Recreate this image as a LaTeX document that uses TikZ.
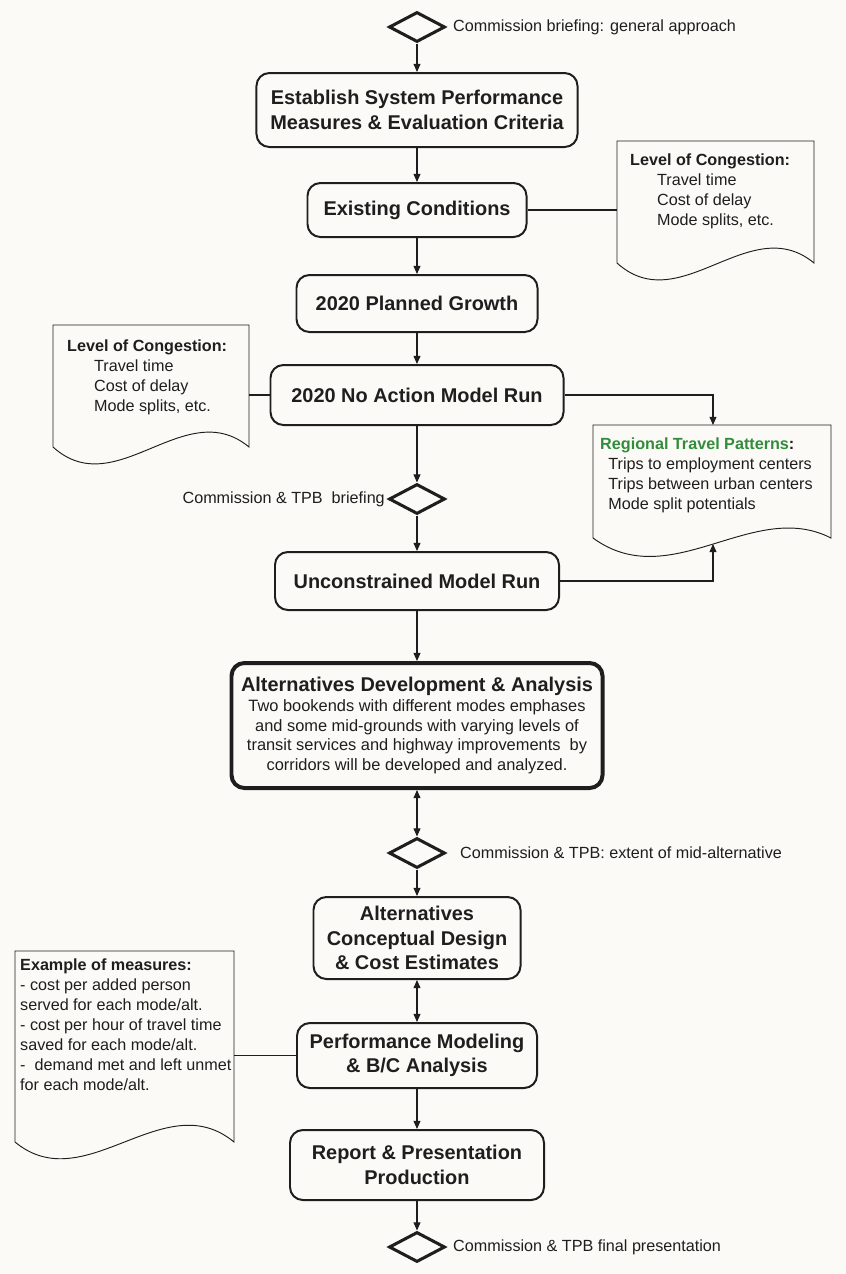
\documentclass[tikz,border=0pt]{standalone}
\usepackage{fontspec}
\setmainfont{Liberation Sans}
\usepackage{xcolor}
\usepackage{tikz}
\usetikzlibrary{shapes.geometric,arrows.meta}
\definecolor{paper}{RGB}{251,250,246}
\definecolor{ink}{RGB}{30,30,30}
\definecolor{hilite}{RGB}{50,140,60}
\newcommand{\docind}{\hspace*{23pt}}

\begin{document}
\begin{tikzpicture}[x=0.03cm, y=-0.03cm,
        box/.style={draw=ink, line width=1.7pt, rounded corners=11pt, align=center,
                    font=\fontsize{17}{21}\selectfont\bfseries, text=ink, inner sep=2pt},
        gate/.style={diamond, draw=ink, line width=2.6pt, minimum width=1.68cm,
                     minimum height=0.9cm, inner sep=0pt},
        note/.style={font=\fontsize{13.8}{17}\selectfont, text=ink, inner sep=0pt},
        doctext/.style={font=\fontsize{13.8}{17.07}\selectfont, align=left, text=ink,
                        inner sep=0pt, anchor=north west},
        docline/.style={draw=ink, line width=0.8pt},
        link/.style={draw=ink, line width=0.9pt},
        arr/.style={link, -{Triangle[length=7pt,width=6pt]}},
        darr/.style={link, {Triangle[length=7pt,width=6pt]}-{Triangle[length=7pt,width=6pt]}}
    ]
        \useasboundingbox (0,0) rectangle (846,1274);
        \fill[paper] (0,0) rectangle (846,1274);

        \node[gate] (brief1) at (417,27) {};
        \node[note, anchor=west] (brief1lbl) at (453,27) {Commission briefing: general approach};
        \node[box, minimum width=9.63cm, minimum height=2.22cm] (measures) at (417,110)
            {Establish System Performance\\Measures \& Evaluation Criteria};
        \node[box, minimum width=6.57cm, minimum height=1.62cm] (existing) at (417,210) {Existing Conditions};
        \node[box, minimum width=7.23cm, minimum height=1.71cm] (growth) at (417,303.5) {2020 Planned Growth};
        \node[box, minimum width=8.79cm, minimum height=1.8cm] (noaction) at (417,395) {2020 No Action Model Run};
        \node[gate] (brief2) at (417,499) {};
        \node[note, anchor=east] (brief2lbl) at (385,499) {Commission \& TPB~~briefing};
        \node[box, minimum width=8.52cm, minimum height=1.74cm] (unconstr) at (417,581) {Unconstrained Model Run};
        \node[box, line width=3.4pt, minimum width=11.13cm, minimum height=3.75cm,
              font=\fontsize{14}{17}\selectfont] (altdev) at (417,725.5)
            {{\fontsize{17}{20}\selectfont\bfseries Alternatives Development \& Analysis}\\
             Two bookends with different modes emphases\\
             and some mid-grounds with varying levels of\\
             transit services and highway improvements~~by\\
             corridors will be developed and analyzed.};
        \node[gate] (brief3) at (417,853) {};
        \node[note, anchor=west] (brief3lbl) at (460,853) {Commission \& TPB: extent of mid-alternative};
        \node[box, minimum width=6.21cm, minimum height=2.46cm] (design) at (417,938)
            {Alternatives\\Conceptual Design\\\& Cost Estimates};
        \node[box, minimum width=7.2cm, minimum height=1.95cm] (perform) at (417,1055.5)
            {Performance Modeling\\\& B/C Analysis};
        \node[box, minimum width=7.62cm, minimum height=2.1cm] (report) at (417,1165)
            {Report \& Presentation\\Production};
        \node[gate] (final) at (417,1247) {};
        \node[note, anchor=west] (finallbl) at (453,1247) {Commission \& TPB final presentation};

        % document sheets
        \draw[docline] (617,263) -- (617,141) -- (814,141) -- (814,263)
            .. controls (750,210) and (680,320) .. cycle;
        \node[doctext] (congest1) at (630,154)
            {\textbf{Level of Congestion:}\\\docind Travel time\\\docind Cost of delay\\\docind Mode splits, etc.};
        \coordinate (congest1w) at (617,210);

        \draw[docline] (53,447) -- (53,325) -- (249,325) -- (249,447)
            .. controls (185,394) and (116,504) .. cycle;
        \node[doctext] (congest2) at (67,340)
            {\textbf{Level of Congestion:}\\\docind Travel time\\\docind Cost of delay\\\docind Mode splits, etc.};
        \coordinate (congest2e) at (249,395);

        \draw[docline] (593,538) -- (593,425) -- (831,425) -- (831,538)
            .. controls (753,498) and (671,595) .. cycle;
        \node[doctext] (patterns) at (600,438)
            {\textcolor{hilite}{\textbf{Regional Travel Patterns}}\textbf{:}\\
             \hspace*{7pt}Trips to employment centers\\
             \hspace*{7pt}Trips between urban centers\\
             \hspace*{7pt}Mode split potentials};
        \coordinate (patternsn) at (713,425);
        \coordinate (patternss) at (713,544);

        \draw[docline] (15,1142) -- (15,951) -- (234,951) -- (234,1142)
            .. controls (164,1084) and (85,1200) .. cycle;
        \node[doctext] (examples) at (20,959)
            {\textbf{Example of measures:}\\- cost per added person\\served for each mode/alt.\\
             - cost per hour of travel time\\saved for each mode/alt.\\
             -~~demand met and left unmet\\for each mode/alt.};
        \coordinate (examplese) at (234,1055.5);

        \draw[arr] (brief1) -- (measures);
        \draw[arr] (measures) -- (existing);
        \draw[link] (existing) -- (congest1w);
        \draw[arr] (existing) -- (growth);
        \draw[arr] (growth) -- (noaction);
        \draw[link] (congest2e) -- (noaction);
        \draw[arr] (noaction) -| (patternsn);
        \draw[arr] (noaction) -- (brief2);
        \draw[arr] (brief2) -- (unconstr);
        \draw[arr] (unconstr) -| (patternss);
        \draw[arr] (unconstr) -- (altdev);
        \draw[darr] (altdev) -- (brief3);
        \draw[arr] (brief3) -- (design);
        \draw[darr] (design) -- (perform);
        \draw[link] (examplese) -- (perform);
        \draw[arr] (perform) -- (report);
        \draw[arr] (report) -- (final);
    \end{tikzpicture}
\end{document}
